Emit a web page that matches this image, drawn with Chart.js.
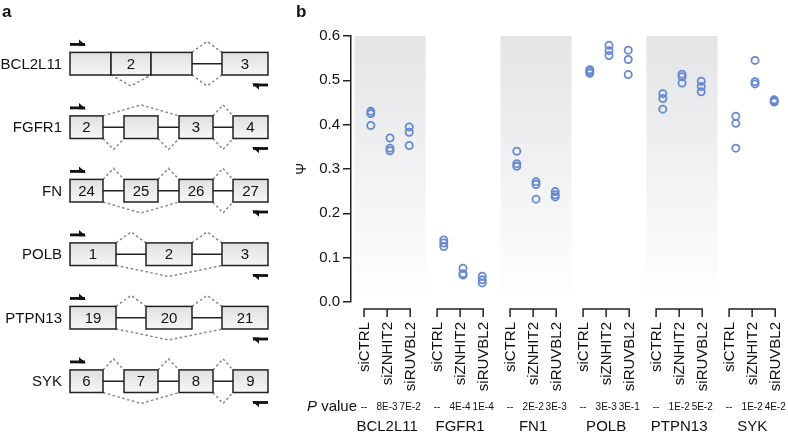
<!DOCTYPE html>
<html>
<head>
<meta charset="utf-8">
<script src="https://cdn.jsdelivr.net/npm/chart.js@4.4.1/dist/chart.umd.min.js"></script>
<style>
  html, body { margin: 0; padding: 0; background: #fff; }
  body { width: 788px; height: 433px; position: relative; overflow: hidden;
         font-family: "Liberation Sans", Arial, Helvetica, sans-serif; }
  #geneWrap { position: absolute; left: 0; top: 0; width: 290px; height: 433px; }
  #psiWrap  { position: absolute; left: 290px; top: 0; width: 498px; height: 433px; }
  .panel { position: absolute; font-weight: bold; font-size: 17px; color: #111; line-height: 1; }
</style>
</head>
<body>
<div id="geneWrap"><canvas id="geneChart" width="290" height="433"></canvas></div>
<div id="psiWrap"><canvas id="psiChart" width="498" height="433"></canvas></div>
<div class="panel" style="left:2px;top:3px">a</div>
<div class="panel" style="left:296px;top:3px">b</div>
<script>
// ---- panel a: exon diagrams ----
const diagramGenes = ['BCL2L11', 'FGFR1', 'FN', 'POLB', 'PTPN13', 'SYK'];
// [start, end, label] along the drawn gene
const exonsBCL2L11 = [[0, 41, ''], [41, 81, '2'], [81, 122, ''], [152, 198, '3']];
const exonsFGFR1   = [[0, 33, '2'], [54, 88, ''], [109, 143, '3'], [163, 198, '4']];
const exonsFN      = [[0, 33, '24'], [54, 88, '25'], [109, 143, '26'], [163, 198, '27']];
const exonsPOLB    = [[0, 46, '1'], [76, 122, '2'], [152, 198, '3']];
const exonsPTPN13  = [[0, 46, '19'], [76, 122, '20'], [152, 198, '21']];
const exonsSYK     = [[0, 33, '6'], [54, 88, '7'], [109, 143, '8'], [163, 198, '9']];
// [from, to, side] side 1 = above, -1 = below
const joinsBCL2L11 = [[122, 152, 1], [41, 81, -1], [122, 152, -1]];
const joinsFGFR1   = [[33, 109, 1], [143, 163, 1], [33, 54, -1], [88, 109, -1], [143, 163, -1]];
const joinsFN      = [[33, 54, 1], [88, 109, 1], [143, 163, 1], [33, 109, -1], [143, 163, -1]];
const joinsPOLB    = [[46, 76, 1], [122, 152, 1], [46, 152, -1]];
const joinsPTPN13  = [[46, 76, 1], [122, 152, 1], [46, 152, -1]];
const joinsSYK     = [[33, 54, 1], [88, 109, 1], [143, 163, 1], [33, 109, -1], [143, 163, -1]];

const geneExons = [exonsBCL2L11, exonsFGFR1, exonsFN, exonsPOLB, exonsPTPN13, exonsSYK];
const geneJoins = [joinsBCL2L11, joinsFGFR1, joinsFN, joinsPOLB, joinsPTPN13, joinsSYK];

// ---- panel b: PSI values ----
const genes = ['BCL2L11', 'FGFR1', 'FN1', 'POLB', 'PTPN13', 'SYK'];
const conditions = ['siCTRL', 'siZNHIT2', 'siRUVBL2'];
const psiCTRL   = [[0.430, 0.425, 0.398], [0.140, 0.133, 0.125], [0.340, 0.312, 0.306],
                   [0.524, 0.520, 0.516], [0.470, 0.459, 0.435], [0.419, 0.403, 0.347]];
const psiZNHIT2 = [[0.370, 0.347, 0.341], [0.076, 0.064, 0.061], [0.271, 0.265, 0.232],
                   [0.579, 0.567, 0.556], [0.514, 0.508, 0.494], [0.545, 0.497, 0.492]];
const psiRUVBL2 = [[0.395, 0.383, 0.353], [0.058, 0.050, 0.043], [0.249, 0.242, 0.237],
                   [0.568, 0.547, 0.513], [0.498, 0.486, 0.474], [0.456, 0.453, 0.451]];
const pValues = [['--', '8E-3', '7E-2'], ['--', '4E-4', '1E-4'], ['--', '2E-2', '3E-3'],
                 ['--', '3E-3', '3E-1'], ['--', '1E-2', '5E-2'], ['--', '1E-2', '4E-2']];
const yTicks = [0, 0.1, 0.2, 0.3, 0.4, 0.5, 0.6];
const shadedGroups = [0, 2, 4];

const FONT = '"Liberation Sans", Arial, Helvetica, sans-serif';
const INK = '#111';
Chart.defaults.font.family = FONT;
Chart.defaults.color = INK;

const groupStep = 3.8;
const colX = (g, c) => g * groupStep + (c - 1);

// ---------- panel a chart ----------
const genePlugin = {
  id: 'geneDiagram',
  afterDraw(chart) {
    const { ctx, chartArea, scales: { x, y } } = chart;
    const half = 11.3, bump = 11;
    ctx.save();
    diagramGenes.forEach((name, i) => {
      const yc = y.getPixelForValue(i);
      const top = yc - half, bot = yc + half;
      const exs = geneExons[i];
      const x0 = x.getPixelForValue(exs[0][0]);
      const x1 = x.getPixelForValue(exs[exs.length - 1][1]);

      // intron backbone
      ctx.strokeStyle = '#222';
      ctx.lineWidth = 1.5;
      ctx.setLineDash([]);
      ctx.beginPath(); ctx.moveTo(x0, yc); ctx.lineTo(x1, yc); ctx.stroke();

      // splice junctions
      ctx.strokeStyle = '#888';
      ctx.lineWidth = 1.5;
      ctx.setLineDash([2.5, 2.5]);
      geneJoins[i].forEach(([a, b, side]) => {
        const pa = x.getPixelForValue(a), pb = x.getPixelForValue(b);
        const edge = side > 0 ? top : bot;
        ctx.beginPath();
        ctx.moveTo(pa, edge);
        ctx.lineTo((pa + pb) / 2, edge - side * bump);
        ctx.lineTo(pb, edge);
        ctx.stroke();
      });
      ctx.setLineDash([]);

      // exons
      exs.forEach(([a, b, lab]) => {
        const pa = x.getPixelForValue(a), pb = x.getPixelForValue(b);
        const grad = ctx.createLinearGradient(0, top, 0, bot);
        grad.addColorStop(0, '#e0e0e0');
        grad.addColorStop(1, '#f6f6f6');
        ctx.fillStyle = grad;
        ctx.fillRect(pa, top, pb - pa, bot - top);
        ctx.strokeStyle = '#222';
        ctx.lineWidth = 1.5;
        ctx.strokeRect(pa, top, pb - pa, bot - top);
        if (lab) {
          ctx.fillStyle = INK;
          ctx.font = '15px ' + FONT;
          ctx.textAlign = 'center';
          ctx.textBaseline = 'middle';
          ctx.fillText(lab, (pa + pb) / 2, yc + 1);
        }
      });

      // primers
      ctx.fillStyle = '#111';
      const fy = top - 8;
      ctx.fillRect(x0, fy - 1.4, 15, 2.8);
      ctx.beginPath(); ctx.moveTo(x0 + 9, fy - 4.8); ctx.lineTo(x0 + 16, fy + 1.4); ctx.lineTo(x0 + 9, fy + 1.4); ctx.closePath(); ctx.fill();
      const ry = bot + 10;
      ctx.fillRect(x1 - 15, ry - 1.4, 15, 2.8);
      ctx.beginPath(); ctx.moveTo(x1 - 9, ry + 4.8); ctx.lineTo(x1 - 16, ry - 1.4); ctx.lineTo(x1 - 9, ry - 1.4); ctx.closePath(); ctx.fill();

      // gene name
      ctx.fillStyle = INK;
      ctx.font = '15px ' + FONT;
      ctx.textAlign = 'right';
      ctx.textBaseline = 'middle';
      ctx.fillText(name, chartArea.left - 8, yc + 1);
    });
    ctx.restore();
  }
};

new Chart(document.getElementById('geneChart'), {
  type: 'scatter',
  data: { datasets: [] },
  options: {
    responsive: false,
    animation: false,
    layout: { padding: { left: 70, right: 22, top: 63.7, bottom: 51.8 } },
    plugins: { legend: { display: false }, tooltip: { enabled: false } },
    scales: {
      x: { type: 'linear', min: 0, max: 198, display: false },
      y: { type: 'linear', min: 0, max: 5, reverse: true, display: false }
    }
  },
  plugins: [genePlugin]
});

// ---------- panel b chart ----------
const replicates = [psiCTRL, psiZNHIT2, psiRUVBL2];
const datasets = conditions.map((cond, c) => ({
  label: cond,
  data: genes.flatMap((gName, g) => replicates[c][g].map(v => ({ x: colX(g, c), y: v }))),
  borderColor: '#6689cf',
  backgroundColor: 'rgba(255,255,255,0)',
  borderWidth: 1.8,
  pointRadius: 3.6,
  pointStyle: 'circle'
}));

const bandPlugin = {
  id: 'bands',
  beforeDatasetsDraw(chart) {
    const { ctx, chartArea, scales: { x } } = chart;
    const grad = ctx.createLinearGradient(0, chartArea.top, 0, chartArea.bottom);
    grad.addColorStop(0, '#e3e4e6');
    grad.addColorStop(1, '#ffffff');
    ctx.save();
    ctx.fillStyle = grad;
    shadedGroups.forEach(g => {
      const l = x.getPixelForValue(g * groupStep - 1.85);
      const r = x.getPixelForValue(g * groupStep + 1.85);
      ctx.fillRect(l, chartArea.top, r - l, chartArea.bottom - chartArea.top - 4);
    });
    ctx.restore();
  }
};

const labelPlugin = {
  id: 'groupLabels',
  afterDraw(chart) {
    const { ctx, chartArea, scales: { x } } = chart;
    const b = chartArea.bottom;
    ctx.save();
    genes.forEach((gName, g) => {
      const cx = g * groupStep - 0.15;
      const ticks = [-1.2, 0, 1.2].map(d => x.getPixelForValue(cx + d));
      // bracket
      ctx.strokeStyle = '#222';
      ctx.lineWidth = 1.5;
      ctx.beginPath();
      ctx.moveTo(ticks[0], b + 15); ctx.lineTo(ticks[0], b + 7);
      ctx.lineTo(ticks[2], b + 7); ctx.lineTo(ticks[2], b + 15);
      ctx.moveTo(ticks[1], b + 7); ctx.lineTo(ticks[1], b + 15);
      ctx.stroke();
      // condition labels, rotated
      ctx.fillStyle = INK;
      ctx.font = '15px ' + FONT;
      conditions.forEach((cond, c) => {
        ctx.save();
        ctx.translate(ticks[c] + 1, b + 20);
        ctx.rotate(-Math.PI / 2);
        ctx.textAlign = 'right';
        ctx.textBaseline = 'middle';
        ctx.fillText(cond, 0, 0);
        ctx.restore();
      });
      // p values
      ctx.font = '10px ' + FONT;
      ctx.textAlign = 'center';
      ctx.textBaseline = 'middle';
      pValues[g].forEach((p, c) => ctx.fillText(p, ticks[c], b + 105));
      // gene name
      ctx.font = '15px ' + FONT;
      ctx.fillText(gName, ticks[1], b + 125);
    });
    // "P value" caption
    const endX = chartArea.left + 6;
    ctx.textAlign = 'right';
    ctx.textBaseline = 'middle';
    ctx.font = '15px ' + FONT;
    ctx.fillText(' value', endX, b + 105);
    const w = ctx.measureText(' value').width;
    ctx.font = 'italic 15px ' + FONT;
    ctx.fillText('P', endX - w, b + 105);
    ctx.restore();
  }
};

new Chart(document.getElementById('psiChart'), {
  type: 'scatter',
  data: { datasets },
  options: {
    responsive: false,
    animation: false,
    layout: { padding: { left: 0, right: 8, top: 36, bottom: 131 } },
    plugins: { legend: { display: false }, tooltip: { enabled: false } },
    scales: {
      x: { type: 'linear', min: -2.03, max: 20.3, display: false },
      y: {
        type: 'linear',
        min: 0, max: 0.6,
        afterFit: s => { s.width = 61; },
        afterBuildTicks: s => { s.ticks = yTicks.map(v => ({ value: v })); },
        ticks: {
          padding: 3,
          color: INK,
          font: { size: 15 },
          callback: v => v.toFixed(1)
        },
        grid: { drawOnChartArea: false, drawTicks: true, tickLength: 8, color: '#222', lineWidth: 1.5 },
        border: { display: true, color: '#222', width: 1.5 },
        title: { display: true, text: 'Ψ', color: INK, font: { size: 14 }, padding: { top: 4, bottom: 0 } }
      }
    }
  },
  plugins: [bandPlugin, labelPlugin]
});
</script>
</body>
</html>
